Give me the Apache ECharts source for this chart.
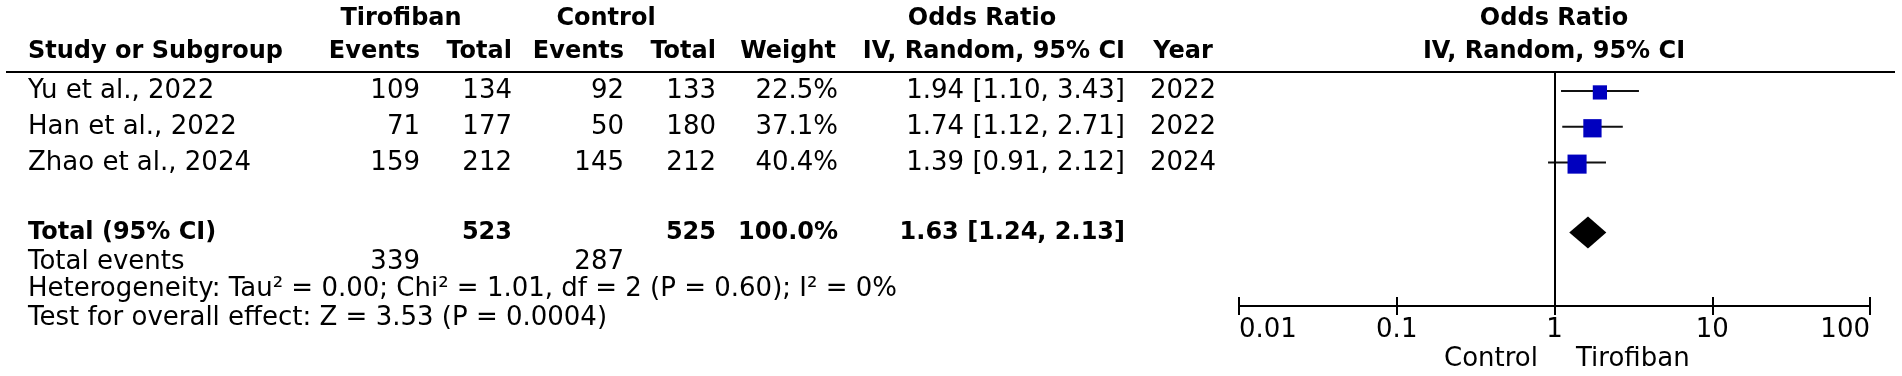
<!DOCTYPE html>
<html>
<head>
<meta charset="utf-8">
<script src="https://cdn.jsdelivr.net/npm/echarts@6/dist/echarts.min.js"></script>
<style>
  html, body { margin: 0; padding: 0; background: #fff; }
  #chart { width: 1902px; height: 376px; }
</style>
</head>
<body>
<div id="chart"></div>
<script>
// study level data
const studies = ['Yu et al., 2022', 'Han et al., 2022', 'Zhao et al., 2024']
const tiroEvents = [109, 71, 159]
const tiroTotal = [134, 177, 212]
const ctrlEvents = [92, 50, 145]
const ctrlTotal = [133, 180, 212]
const weights = [22.5, 37.1, 40.4]
const oddsRatios = [1.94, 1.74, 1.39]
const ciLower = [1.10, 1.12, 0.91]
const ciUpper = [3.43, 2.71, 2.12]
const years = [2022, 2022, 2024]

// pooled result
const totalOR = [1.63, 1.24, 2.13]
const totalCounts = [523, 525]
const totalEventCounts = [339, 287]
const heterogeneityText = 'Heterogeneity: Tau\u00b2 = 0.00; Chi\u00b2 = 1.01, df = 2 (P = 0.60); I\u00b2 = 0%'
const overallText = 'Test for overall effect: Z = 3.53 (P = 0.0004)'
const xTicks = [0.01, 0.1, 1, 10, 100]

// layout: column anchors (px) and row positions (row units, 1 unit = 36px)
const col = { study: 28, tEv: 420, tTot: 512, cEv: 624, cTot: 716, weight: 838, or: 1125, year: 1183, plot: 1554 }
const row = { head1: -2, head2: -1.08, total: 3.95, events: 4.75, het: 5.5, test: 6.3, foot: 7.45 }
const FONT = 'DejaVu Sans'

const cells = []
function cell(x, r, text, align, bold) {
  cells.push({
    name: String(text),
    value: [x, r],
    label: { align: align, fontWeight: bold ? 'bold' : 'normal', fontSize: bold ? 24 : 26 }
  })
}

// headers
cell(401, row.head1, 'Tirofiban', 'center', true)
cell(606, row.head1, 'Control', 'center', true)
cell(982, row.head1, 'Odds Ratio', 'center', true)
cell(col.plot, row.head1, 'Odds Ratio', 'center', true)
cell(col.study, row.head2, 'Study or Subgroup', 'left', true)
cell(col.tEv, row.head2, 'Events', 'right', true)
cell(col.tTot, row.head2, 'Total', 'right', true)
cell(col.cEv, row.head2, 'Events', 'right', true)
cell(col.cTot, row.head2, 'Total', 'right', true)
cell(col.weight - 2, row.head2, 'Weight', 'right', true)
cell(col.or, row.head2, 'IV, Random, 95% CI', 'right', true)
cell(col.year, row.head2, 'Year', 'center', true)
cell(col.plot, row.head2, 'IV, Random, 95% CI', 'center', true)

// study rows
studies.forEach(function (s, i) {
  cell(col.study, i, s, 'left')
  cell(col.tEv, i, tiroEvents[i], 'right')
  cell(col.tTot, i, tiroTotal[i], 'right')
  cell(col.cEv, i, ctrlEvents[i], 'right')
  cell(col.cTot, i, ctrlTotal[i], 'right')
  cell(col.weight, i, weights[i].toFixed(1) + '%', 'right')
  cell(col.or, i, oddsRatios[i].toFixed(2) + ' [' + ciLower[i].toFixed(2) + ', ' + ciUpper[i].toFixed(2) + ']', 'right')
  cell(col.year, i, years[i], 'center')
})

// totals
cell(col.study, row.total, 'Total (95% CI)', 'left', true)
cell(col.tTot, row.total, totalCounts[0], 'right', true)
cell(col.cTot, row.total, totalCounts[1], 'right', true)
cell(col.weight, row.total, '100.0%', 'right', true)
cell(col.or, row.total, totalOR[0].toFixed(2) + ' [' + totalOR[1].toFixed(2) + ', ' + totalOR[2].toFixed(2) + ']', 'right', true)
cell(col.study, row.events, 'Total events', 'left')
cell(col.tEv, row.events, totalEventCounts[0], 'right')
cell(col.cEv, row.events, totalEventCounts[1], 'right')
cell(col.study, row.het, heterogeneityText, 'left')
cell(col.study, row.test, overallText, 'left')
cell(1538, row.foot, 'Control', 'right')
cell(1576, row.foot, 'Tirofiban', 'left')

const ciData = studies.map(function (s, i) {
  return [oddsRatios[i], ciLower[i], ciUpper[i], i, weights[i]]
})

const myChart = echarts.init(document.getElementById('chart'))
const option = {
  animation: false,
  backgroundColor: '#fff',
  textStyle: { fontFamily: FONT },
  grid: [
    { left: 1239, right: 32, top: 73, bottom: 70 },
    { left: 0, right: 0, top: 0, bottom: 0 }
  ],
  xAxis: [
    {
      type: 'log', logBase: 10, min: 0.01, max: 100, gridIndex: 0, position: 'bottom',
      axisLine: { onZero: false, lineStyle: { color: '#000', width: 2 } },
      axisTick: { inside: true, length: 9, lineStyle: { color: '#000', width: 2 } },
      splitLine: { show: false },
      axisLabel: {
        margin: 11, color: '#000', fontSize: 26, fontFamily: FONT,
        alignMinLabel: 'left', alignMaxLabel: 'right',
        formatter: function (v) {
          const t = xTicks.find(function (k) { return Math.abs(Math.log10(k) - Math.log10(v)) < 1e-6 })
          return t === undefined ? '' : String(t)
        }
      }
    },
    {
      type: 'log', logBase: 10, min: 0.01, max: 100, gridIndex: 0, position: 'bottom',
      axisLine: { show: false, onZero: false },
      axisTick: { inside: false, length: 9, lineStyle: { color: '#000', width: 2 } },
      axisLabel: { show: false },
      splitLine: { show: false }
    },
    { type: 'value', min: 0, max: 1902, gridIndex: 1, show: false }
  ],
  yAxis: [
    { type: 'value', min: -0.5, max: 6, inverse: true, gridIndex: 0, show: false },
    { type: 'value', min: -2.528, max: 7.917, inverse: true, gridIndex: 1, show: false }
  ],
  graphic: [
    { type: 'line', shape: { x1: 6, y1: 72, x2: 1895, y2: 72 }, style: { stroke: '#000', lineWidth: 2 } }
  ],
  series: [
    {
      type: 'custom',
      xAxisIndex: 0, yAxisIndex: 0,
      data: ciData,
      encode: { x: [0, 1, 2], y: 3 },
      renderItem: function (params, api) {
        const y = api.value(3)
        const lo = api.coord([api.value(1), y])
        const hi = api.coord([api.value(2), y])
        const c = api.coord([api.value(0), y])
        const size = 30 * Math.sqrt(api.value(4) / 100)
        return {
          type: 'group',
          children: [
            { type: 'line', shape: { x1: lo[0], y1: lo[1], x2: hi[0], y2: hi[1] }, style: { stroke: '#111', lineWidth: 2 } },
            { type: 'rect', shape: { x: c[0] - size / 2, y: c[1] - size / 2 + 1.5, width: size, height: size }, style: { fill: '#0000bf' } }
          ]
        }
      },
      markLine: {
        silent: true, symbol: 'none',
        label: { show: false },
        lineStyle: { color: '#000', width: 2, type: 'solid' },
        data: [{ xAxis: 1 }]
      }
    },
    {
      type: 'custom',
      xAxisIndex: 0, yAxisIndex: 0,
      data: [[totalOR[0], totalOR[1], totalOR[2], row.total]],
      encode: { x: [0, 1, 2], y: 3 },
      renderItem: function (params, api) {
        const y = api.value(3)
        const lo = api.coord([api.value(1), y])
        const hi = api.coord([api.value(2), y])
        const c = api.coord([api.value(0), y])
        const h = 16
        return {
          type: 'polygon',
          shape: { points: [[lo[0], c[1]], [c[0], c[1] - h], [hi[0], c[1]], [c[0], c[1] + h]] },
          style: { fill: '#000' }
        }
      }
    },
    {
      type: 'scatter',
      xAxisIndex: 2, yAxisIndex: 1,
      symbolSize: 0,
      silent: true,
      itemStyle: { opacity: 1 },
      data: cells,
      label: {
        show: true, position: 'inside', verticalAlign: 'middle',
        color: '#000', fontFamily: FONT,
        formatter: function (p) { return p.name }
      }
    }
  ]
}
myChart.setOption(option)
</script>
</body>
</html>
